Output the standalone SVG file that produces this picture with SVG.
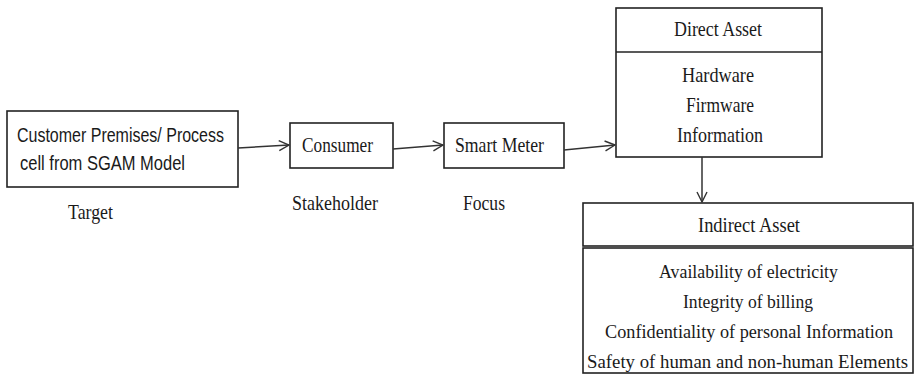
<svg xmlns="http://www.w3.org/2000/svg" width="916" height="384" viewBox="0 0 916 384">
  <style>
    .box { fill: #ffffff; stroke: #222222; stroke-width: 1.6; }
    .sans { font-family: "Liberation Sans", Arial, sans-serif; font-size: 20px; fill: #1a1a1a; }
    .serif { font-family: "Liberation Serif", "Times New Roman", serif; font-size: 21px; fill: #1a1a1a; }
    .body { font-size: 19px; }
    .wire { fill: none; stroke: #333333; stroke-width: 1.5; }
  </style>
  <defs>
    <marker id="open-arrow" viewBox="0 0 12 12" refX="11" refY="6" markerWidth="12" markerHeight="12" markerUnits="userSpaceOnUse" orient="auto">
      <path d="M1,1 L11,6 L1,11" fill="none" stroke="#333333" stroke-width="1.4"/>
    </marker>
  </defs>
  <rect width="916" height="384" fill="#ffffff"/>

  <g id="target">
    <rect class="box" x="7" y="111" width="231" height="76"/>
    <text class="sans" x="17" y="142" textLength="207" lengthAdjust="spacingAndGlyphs">Customer Premises/ Process</text>
    <text class="sans" x="20" y="170" textLength="165" lengthAdjust="spacingAndGlyphs">cell from SGAM Model</text>
    <text class="serif" x="68" y="219" textLength="45" lengthAdjust="spacingAndGlyphs">Target</text>
  </g>

  <g id="consumer">
    <rect class="box" x="290" y="123" width="103" height="45"/>
    <text class="serif" x="302" y="152" textLength="71" lengthAdjust="spacingAndGlyphs">Consumer</text>
    <text class="serif" x="292" y="210" textLength="86" lengthAdjust="spacingAndGlyphs">Stakeholder</text>
  </g>

  <g id="smart-meter">
    <rect class="box" x="444" y="123" width="120" height="45"/>
    <text class="serif" x="455" y="152" textLength="89" lengthAdjust="spacingAndGlyphs">Smart Meter</text>
    <text class="serif" x="463" y="210" textLength="42" lengthAdjust="spacingAndGlyphs">Focus</text>
  </g>

  <g id="direct-asset">
    <rect class="box" x="616" y="8" width="206" height="149"/>
    <line class="box" x1="616" y1="52" x2="822" y2="52"/>
    <text class="serif" x="674" y="36" textLength="88" lengthAdjust="spacingAndGlyphs">Direct Asset</text>
    <text class="serif" x="682" y="82" textLength="72" lengthAdjust="spacingAndGlyphs">Hardware</text>
    <text class="serif" x="686" y="112" textLength="68" lengthAdjust="spacingAndGlyphs">Firmware</text>
    <text class="serif" x="677" y="142" textLength="86" lengthAdjust="spacingAndGlyphs">Information</text>
  </g>

  <g id="indirect-asset">
    <rect class="box" x="583" y="203" width="330" height="43"/>
    <rect class="box" x="583" y="248" width="330" height="125"/>
    <text class="serif" x="698" y="232" textLength="102" lengthAdjust="spacingAndGlyphs">Indirect Asset</text>
    <text class="serif body" x="659" y="278" textLength="179" lengthAdjust="spacingAndGlyphs">Availability of electricity</text>
    <text class="serif body" x="683" y="308" textLength="130" lengthAdjust="spacingAndGlyphs">Integrity of billing</text>
    <text class="serif body" x="605" y="338" textLength="288" lengthAdjust="spacingAndGlyphs">Confidentiality of personal Information</text>
    <text class="serif body" x="587" y="368" textLength="321" lengthAdjust="spacingAndGlyphs">Safety of human and non-human Elements</text>
  </g>

  <g id="connectors">
    <line class="wire" x1="238" y1="148" x2="289" y2="145" marker-end="url(#open-arrow)"/>
    <line class="wire" x1="393" y1="149" x2="443" y2="145" marker-end="url(#open-arrow)"/>
    <line class="wire" x1="564" y1="150" x2="615" y2="145" marker-end="url(#open-arrow)"/>
    <line class="wire" x1="702" y1="157" x2="702" y2="202" marker-end="url(#open-arrow)"/>
  </g>
</svg>
